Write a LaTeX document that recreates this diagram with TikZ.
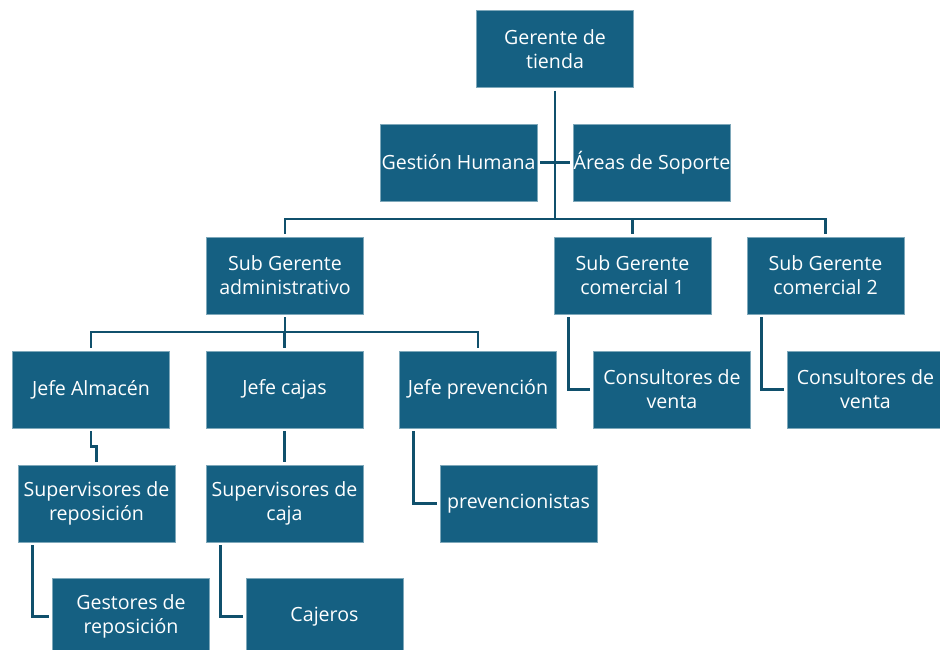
\documentclass[tikz,border=0pt]{standalone}
\usepackage{fontspec}
\setmainfont{Open Sans}
\usepackage{xcolor}
\usepackage{tikz}
\usetikzlibrary{calc,positioning}
\definecolor{boxblue}{HTML}{156082}
\definecolor{linkblue}{HTML}{10506C}

\begin{document}
\begin{tikzpicture}[x=1pt,y=-1pt,
	cargo/.style={fill=boxblue,draw=boxblue!55!white,line width=0.6pt,text=white,
		minimum width=157pt,minimum height=77pt,inner sep=0pt,align=center,
		font=\fontsize{19.6}{24}\selectfont},
	enlace/.style={draw=linkblue,line width=2.6pt,shorten <=3pt,shorten >=3pt}]
	\useasboundingbox (0,0) rectangle (940,650);
	% niveles superiores
	\node[cargo] (gerente) at (555,49) {Gerente de\\tienda};
	\node[cargo] (gestion) at (458.5,162.5) {Gestión Humana};
	\node[cargo] (soporte) at (652,162.5) {Áreas de Soporte};
	\node[cargo] (subadm) at (285,275.5) {Sub Gerente\\administrativo};
	\node[cargo] (subcom1) at (632.5,275.5) {Sub Gerente\\comercial 1};
	\node[cargo] (subcom2) at (825.5,275.5) {Sub Gerente\\comercial 2};
	% jefaturas
	\node[cargo] (almacen) at (91,389.5) {Jefe Almacén};
	\node[cargo] (cajas) at (284.5,389.5) {Jefe cajas};
	\node[cargo] (prevencion) at (478,389.5) {Jefe prevención};
	\node[cargo] (consult1) at (672,389.5) {Consultores de\\venta};
	\node[cargo] (consult2) at (865.5,389.5) {Consultores de\\venta};
	% supervisores y operativos
	\node[cargo] (suprep) at (96.5,503.5) {Supervisores de\\reposición};
	\node[cargo] (supcaja) at (284.5,503.5) {Supervisores de\\caja};
	\node[cargo] (prevenc) at (518.5,503.5) {prevencionistas};
	\node[cargo] (gestores) at (131,616.5) {Gestores de\\reposición};
	\node[cargo] (cajeros) at (324.5,616.5) {Cajeros};
	% conectores
	\coordinate (bus1) at (555,219);
	\coordinate (bus2) at (285,332);
	\draw[enlace,shorten >=0pt] (gerente.south) -- (bus1);
	\draw[enlace] (gestion.east) -- (soporte.west);
	\draw[enlace] (subadm.north) -- (subadm.north |- bus1) -- (subcom2.north |- bus1) -- (subcom2.north);
	\draw[enlace,shorten <=0pt] (subcom1.north |- bus1) -- (subcom1.north);
	\draw[enlace,shorten >=0pt] (subadm.south) -- (bus2);
	\draw[enlace] (almacen.north) -- (almacen.north |- bus2) -- (prevencion.north |- bus2) -- (prevencion.north);
	\draw[enlace,shorten <=0pt] (cajas.north |- bus2) -- (cajas.north);
	\draw[enlace] (almacen.south) -- ++(0,18) -| (suprep.north);
	\draw[enlace] (cajas.south) -- (supcaja.north);
	\draw[enlace] ([xshift=14.5pt]prevencion.south west) |- (prevenc.west);
	\draw[enlace] ([xshift=14.5pt]subcom1.south west) |- (consult1.west);
	\draw[enlace] ([xshift=14.5pt]subcom2.south west) |- (consult2.west);
	\draw[enlace] ([xshift=14.5pt]suprep.south west) |- (gestores.west);
	\draw[enlace] ([xshift=14.5pt]supcaja.south west) |- (cajeros.west);
\end{tikzpicture}
\end{document}
